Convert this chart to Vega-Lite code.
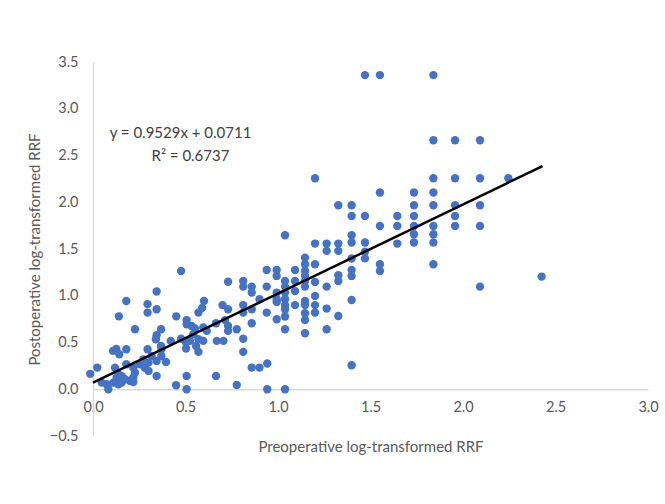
{
  "$schema": "https://vega.github.io/schema/vega-lite/v6.json",
  "width": 555,
  "height": 374,
  "autosize": {"type": "none"},
  "padding": {"left": 93, "top": 62, "right": 17, "bottom": 68},
  "background": "white",
  "config": {
    "view": {"stroke": null},
    "font": "Lato",
    "axis": {"grid": false, "ticks": false, "domainColor": "#d9d9d9", "domainWidth": 1.3, "labelColor": "#595959", "titleColor": "#595959", "labelFontSize": 14.5, "titleFontSize": 15, "titleFontWeight": "normal", "labelFont": "Lato", "titleFont": "Lato", "labelFlush": false, "labelOverlap": false}
  },
  "datasets": {
    "pts": [
      {"pre": -0.015, "post": 0.165}, {"pre": 0.023, "post": 0.232}, {"pre": 0.047, "post": 0.071}, {"pre": 0.074, "post": 0.053},
      {"pre": 0.083, "post": 0.0}, {"pre": 0.11, "post": 0.071}, {"pre": 0.137, "post": 0.053}, {"pre": 0.155, "post": 0.071},
      {"pre": 0.108, "post": 0.41}, {"pre": 0.126, "post": 0.43}, {"pre": 0.142, "post": 0.374}, {"pre": 0.18, "post": 0.428},
      {"pre": 0.14, "post": 0.78}, {"pre": 0.18, "post": 0.944}, {"pre": 0.119, "post": 0.23}, {"pre": 0.137, "post": 0.16},
      {"pre": 0.128, "post": 0.125}, {"pre": 0.155, "post": 0.142}, {"pre": 0.173, "post": 0.107}, {"pre": 0.2, "post": 0.089},
      {"pre": 0.218, "post": 0.078}, {"pre": 0.18, "post": 0.267}, {"pre": 0.218, "post": 0.23}, {"pre": 0.227, "post": 0.178},
      {"pre": 0.218, "post": 0.125}, {"pre": 0.227, "post": 0.642}, {"pre": 0.254, "post": 0.267}, {"pre": 0.272, "post": 0.32},
      {"pre": 0.28, "post": 0.23}, {"pre": 0.3, "post": 0.285}, {"pre": 0.3, "post": 0.196}, {"pre": 0.295, "post": 0.428},
      {"pre": 0.317, "post": 0.356}, {"pre": 0.344, "post": 0.303}, {"pre": 0.37, "post": 0.356}, {"pre": 0.395, "post": 0.292},
      {"pre": 0.344, "post": 0.142}, {"pre": 0.295, "post": 0.91}, {"pre": 0.295, "post": 0.82}, {"pre": 0.344, "post": 0.856},
      {"pre": 0.344, "post": 1.045}, {"pre": 0.368, "post": 0.642}, {"pre": 0.344, "post": 0.578}, {"pre": 0.34, "post": 0.535},
      {"pre": 0.368, "post": 0.463}, {"pre": 0.37, "post": 0.428}, {"pre": 0.42, "post": 0.517}, {"pre": 0.449, "post": 0.043},
      {"pre": 0.45, "post": 0.78}, {"pre": 0.476, "post": 1.265}, {"pre": 0.476, "post": 0.54}, {"pre": 0.506, "post": 0.142},
      {"pre": 0.506, "post": 0.0}, {"pre": 0.503, "post": 0.5}, {"pre": 0.503, "post": 0.435}, {"pre": 0.524, "post": 0.517},
      {"pre": 0.506, "post": 0.74}, {"pre": 0.506, "post": 0.695}, {"pre": 0.533, "post": 0.677}, {"pre": 0.551, "post": 0.65},
      {"pre": 0.557, "post": 0.463}, {"pre": 0.57, "post": 0.535}, {"pre": 0.57, "post": 0.4}, {"pre": 0.596, "post": 0.517},
      {"pre": 0.57, "post": 0.82}, {"pre": 0.59, "post": 0.87}, {"pre": 0.6, "post": 0.944}, {"pre": 0.596, "post": 0.66},
      {"pre": 0.615, "post": 0.624}, {"pre": 0.542, "post": 0.59}, {"pre": 0.665, "post": 0.142}, {"pre": 0.665, "post": 0.706},
      {"pre": 0.669, "post": 0.517}, {"pre": 0.705, "post": 0.517}, {"pre": 0.7, "post": 0.9}, {"pre": 0.714, "post": 0.74},
      {"pre": 0.73, "post": 0.856}, {"pre": 0.73, "post": 1.15}, {"pre": 0.73, "post": 0.677}, {"pre": 0.73, "post": 0.624},
      {"pre": 0.777, "post": 0.642}, {"pre": 0.777, "post": 0.046}, {"pre": 0.812, "post": 1.158}, {"pre": 0.812, "post": 1.098},
      {"pre": 0.812, "post": 0.9}, {"pre": 0.812, "post": 0.82}, {"pre": 0.812, "post": 0.54}, {"pre": 0.812, "post": 0.4},
      {"pre": 0.858, "post": 1.098}, {"pre": 0.858, "post": 1.034}, {"pre": 0.858, "post": 0.856}, {"pre": 0.858, "post": 0.706},
      {"pre": 0.858, "post": 0.232}, {"pre": 0.9, "post": 0.232}, {"pre": 0.9, "post": 0.963}, {"pre": 0.942, "post": 0.275},
      {"pre": 0.942, "post": 0.0}, {"pre": 0.939, "post": 1.276}, {"pre": 0.939, "post": 1.098}, {"pre": 0.939, "post": 0.82},
      {"pre": 0.993, "post": 1.276}, {"pre": 0.993, "post": 1.212}, {"pre": 0.993, "post": 1.034}, {"pre": 0.993, "post": 0.963},
      {"pre": 0.993, "post": 0.934}, {"pre": 0.993, "post": 0.749}, {"pre": 1.038, "post": 1.647}, {"pre": 1.038, "post": 1.158},
      {"pre": 1.038, "post": 1.098}, {"pre": 1.038, "post": 1.034}, {"pre": 1.038, "post": 0.963}, {"pre": 1.038, "post": 0.9},
      {"pre": 1.038, "post": 0.856}, {"pre": 1.038, "post": 0.778}, {"pre": 1.038, "post": 0.642}, {"pre": 1.038, "post": 0.0},
      {"pre": 1.092, "post": 1.276}, {"pre": 1.092, "post": 1.158}, {"pre": 1.092, "post": 1.05}, {"pre": 1.092, "post": 0.9},
      {"pre": 1.146, "post": 1.408}, {"pre": 1.146, "post": 1.337}, {"pre": 1.146, "post": 1.265}, {"pre": 1.146, "post": 1.212},
      {"pre": 1.146, "post": 1.158}, {"pre": 1.146, "post": 1.098}, {"pre": 1.146, "post": 0.944}, {"pre": 1.146, "post": 0.9},
      {"pre": 1.146, "post": 0.813}, {"pre": 1.146, "post": 0.741}, {"pre": 1.146, "post": 0.599},
      {"pre": 1.2, "post": 2.257}, {"pre": 1.2, "post": 1.558}, {"pre": 1.2, "post": 1.337}, {"pre": 1.2, "post": 1.147},
      {"pre": 1.2, "post": 0.998}, {"pre": 1.2, "post": 0.9}, {"pre": 1.2, "post": 0.82},
      {"pre": 1.263, "post": 1.558}, {"pre": 1.263, "post": 1.48}, {"pre": 1.263, "post": 1.098}, {"pre": 1.263, "post": 0.863},
      {"pre": 1.263, "post": 0.642},
      {"pre": 1.326, "post": 1.968}, {"pre": 1.326, "post": 1.558}, {"pre": 1.326, "post": 1.48}, {"pre": 1.326, "post": 1.219},
      {"pre": 1.326, "post": 1.158}, {"pre": 1.326, "post": 0.784},
      {"pre": 1.398, "post": 1.968}, {"pre": 1.398, "post": 1.853}, {"pre": 1.398, "post": 1.647}, {"pre": 1.398, "post": 1.569},
      {"pre": 1.398, "post": 1.398}, {"pre": 1.398, "post": 1.276}, {"pre": 1.398, "post": 1.212}, {"pre": 1.398, "post": 0.954},
      {"pre": 1.398, "post": 0.257},
      {"pre": 1.47, "post": 3.36}, {"pre": 1.47, "post": 1.853}, {"pre": 1.47, "post": 1.569}, {"pre": 1.47, "post": 1.47},
      {"pre": 1.47, "post": 1.4},
      {"pre": 1.551, "post": 3.36}, {"pre": 1.551, "post": 2.104}, {"pre": 1.551, "post": 1.746}, {"pre": 1.551, "post": 1.337},
      {"pre": 1.551, "post": 1.265},
      {"pre": 1.645, "post": 1.853}, {"pre": 1.645, "post": 1.746}, {"pre": 1.645, "post": 1.558},
      {"pre": 1.735, "post": 2.104}, {"pre": 1.735, "post": 1.968}, {"pre": 1.735, "post": 1.853}, {"pre": 1.735, "post": 1.746},
      {"pre": 1.735, "post": 1.658}, {"pre": 1.735, "post": 1.569},
      {"pre": 1.84, "post": 3.36}, {"pre": 1.84, "post": 2.663}, {"pre": 1.84, "post": 2.257}, {"pre": 1.84, "post": 2.104},
      {"pre": 1.84, "post": 1.968}, {"pre": 1.84, "post": 1.746}, {"pre": 1.84, "post": 1.658}, {"pre": 1.84, "post": 1.569},
      {"pre": 1.84, "post": 1.337},
      {"pre": 1.957, "post": 2.663}, {"pre": 1.957, "post": 2.257}, {"pre": 1.957, "post": 1.968}, {"pre": 1.957, "post": 1.853},
      {"pre": 1.957, "post": 1.746},
      {"pre": 2.092, "post": 2.663}, {"pre": 2.092, "post": 2.257}, {"pre": 2.092, "post": 1.968}, {"pre": 2.092, "post": 1.746},
      {"pre": 2.092, "post": 1.098},
      {"pre": 2.245, "post": 2.257}, {"pre": 2.425, "post": 1.205}
    ],
    "trend": [
      {"pre": 0.0, "post": 0.0711},
      {"pre": 2.43, "post": 2.3867}
    ],
    "labels": [
      {"pre": 0.473, "post": 2.738, "text": "y = 0.9529x + 0.0711"},
      {"pre": 0.527, "post": 2.5, "text": "R² = 0.6737"}
    ]
  },
  "layer": [
    {
      "data": {"name": "pts"},
      "mark": {"type": "circle", "size": 70, "opacity": 1, "color": "#4472C4"},
      "encoding": {
        "x": {"field": "pre", "type": "quantitative", "scale": {"domain": [0, 3], "nice": false, "zero": false},
          "axis": {"title": "Preoperative log-transformed RRF", "values": [0, 0.5, 1, 1.5, 2, 2.5, 3], "format": ".1f", "offset": -46.75, "labelPadding": 11, "titlePadding": 26}},
        "y": {"field": "post", "type": "quantitative", "scale": {"domain": [-0.5, 3.5], "nice": false, "zero": false},
          "axis": {"title": "Postoperative log-transformed RRF", "values": [-0.5, 0, 0.5, 1, 1.5, 2, 2.5, 3, 3.5], "format": ".1f", "labelPadding": 15, "titlePadding": 7}}
      }
    },
    {
      "data": {"name": "trend"},
      "mark": {"type": "line", "color": "#000000", "strokeWidth": 2.5},
      "encoding": {
        "x": {"field": "pre", "type": "quantitative"},
        "y": {"field": "post", "type": "quantitative"}
      }
    },
    {
      "data": {"name": "labels"},
      "mark": {"type": "text", "font": "Lato", "fontSize": 15, "color": "#404040", "align": "center", "baseline": "middle"},
      "encoding": {
        "x": {"field": "pre", "type": "quantitative"},
        "y": {"field": "post", "type": "quantitative"},
        "text": {"field": "text"}
      }
    }
  ]
}
